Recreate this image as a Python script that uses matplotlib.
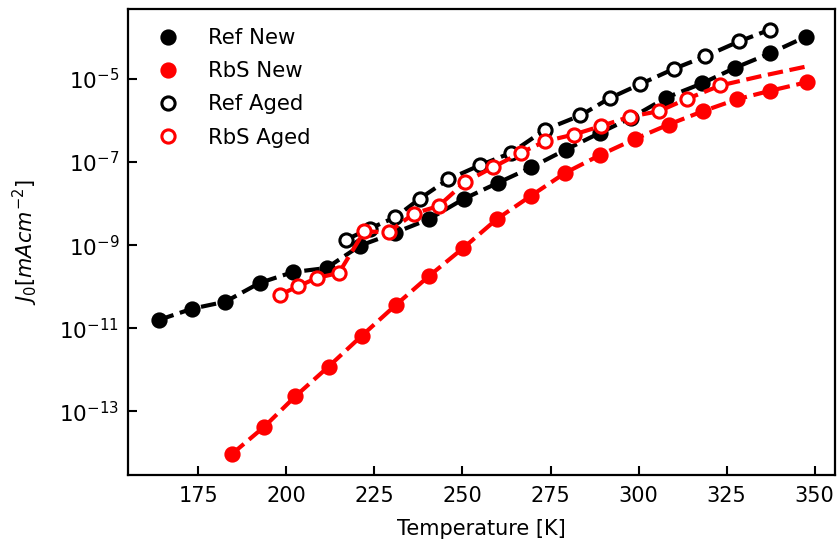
import matplotlib
matplotlib.use("Agg")
import matplotlib.pyplot as plt
import numpy as np
from matplotlib.ticker import NullLocator

plt.rcParams['font.family'] = 'DejaVu Sans'
plt.rcParams['font.size'] = 15

# temperatures [K] and log10 of J0 [mA cm^-2]
ref_new_T = [163.8, 173.2, 182.7, 192.4, 201.8, 211.4, 221.0, 230.9, 240.6, 250.3,
             260.1, 269.5, 279.4, 289.0, 297.8, 307.9, 318.0, 327.5, 337.2, 347.4]
ref_new_logJ = [-10.80, -10.53, -10.36, -9.91, -9.65, -9.55, -9.01, -8.70, -8.37, -7.89,
                -7.50, -7.13, -6.70, -6.30, -5.94, -5.45, -5.11, -4.73, -4.39, -3.99]

rbs_new_T = [184.6, 193.7, 202.5, 212.0, 221.4, 231.2, 240.4, 250.2, 259.8,
             269.5, 279.2, 288.9, 299.1, 308.5, 318.2, 328.0, 337.2, 347.8]
rbs_new_logJ = [-14.02, -13.37, -12.64, -11.92, -11.18, -10.43, -9.75, -9.07, -8.37,
                -7.81, -7.26, -6.84, -6.44, -6.10, -5.78, -5.49, -5.29, -5.08]

ref_aged_T = [216.9, 223.7, 230.9, 237.9, 245.9, 254.9, 263.8, 273.5,
              283.5, 291.9, 300.4, 310.0, 318.9, 328.5, 337.2]
ref_aged_logJ = [-8.87, -8.60, -8.33, -7.88, -7.42, -7.08, -6.78, -6.22,
                 -5.88, -5.46, -5.13, -4.76, -4.46, -4.10, -3.82]

rbs_aged_T = [198.2, 203.4, 208.6, 214.9, 222.1, 229.0, 236.2, 243.2, 250.8,
              258.8, 266.5, 273.5, 281.6, 289.2, 297.5, 305.7, 313.8, 323.2]
rbs_aged_logJ = [-10.19, -9.99, -9.79, -9.67, -8.67, -8.69, -8.24, -8.06, -7.48,
                 -7.12, -6.78, -6.50, -6.34, -6.14, -5.91, -5.78, -5.48, -5.16]

# dashed trend of the aged RbS cell continues past the last measurement
rbs_aged_line_T = rbs_aged_T + [335.0, 347.8]
rbs_aged_line_logJ = rbs_aged_logJ + [-4.93, -4.70]

series = [
    ("Ref New", ref_new_T, ref_new_logJ, ref_new_T, ref_new_logJ, "black", True),
    ("RbS New", rbs_new_T, rbs_new_logJ, rbs_new_T, rbs_new_logJ, "red", True),
    ("Ref Aged", ref_aged_T, ref_aged_logJ, ref_aged_T, ref_aged_logJ, "black", False),
    ("RbS Aged", rbs_aged_T, rbs_aged_logJ, rbs_aged_line_T, rbs_aged_line_logJ, "red", False),
]

fig = plt.figure(figsize=(8.39, 5.46), dpi=100)
ax = fig.add_axes([0.152, 0.130, 0.843, 0.8535])

for label, T, lj, lT, llj, col, filled in series:
    ax.plot(lT, 10 ** np.array(llj), "--", color=col, lw=3)
    ax.plot(T, 10 ** np.array(lj), "o", ls="none", ms=9.5,
            mfc=col if filled else "white", mec=col, mew=2.2, label=label)

ax.set_yscale("log")
ax.set_xlim(154.9, 355.7)
ax.set_ylim(10 ** -14.53, 10 ** -3.32)
ax.set_yticks([1e-13, 1e-11, 1e-9, 1e-7, 1e-5])
ax.yaxis.set_minor_locator(NullLocator())
ax.set_xticks([175, 200, 225, 250, 275, 300, 325, 350])

ax.tick_params(direction="in", length=6.5, width=1.5)
ax.tick_params(axis="x", labelsize=15, pad=8)
ax.tick_params(axis="y", labelsize=15.5, pad=6)
for s in ax.spines.values():
    s.set_linewidth(1.6)

ax.set_xlabel("Temperature [K]", fontsize=15, labelpad=9)
ax.set_ylabel("$J_0[mAcm^{-2}]$", fontsize=15, labelpad=14)

ax.legend(loc="upper left", frameon=False, fontsize=15.3,
          handletextpad=0.9, labelspacing=0.62)

fig.savefig("out.png", dpi=100)
